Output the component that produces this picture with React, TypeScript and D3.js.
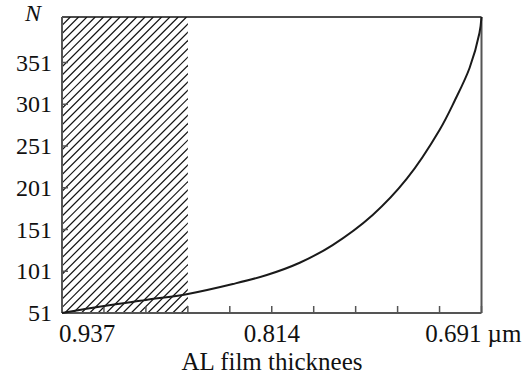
import React from "react";
import * as d3 from "d3";

const thickness = [0.937, 0.9124, 0.8878, 0.8632, 0.8368, 0.8169, 0.7976, 0.7783, 0.7548, 0.7349, 0.7156, 0.7068, 0.698, 0.6922, 0.691];
const countN = [51, 59.4, 66.6, 73.8, 85.7, 96.5, 111.2, 132.4, 168.4, 211.5, 270.2, 304.9, 344.4, 386.3, 405.5];
const yTickValues = [51, 101, 151, 201, 251, 301, 351];
const xTickCount = 10;
const xDomain = [0.937, 0.691];
const yDomain = [51, 405.5];
const hatchRange = [0.937, 0.8632];

const W = 531;
const H = 379;
const L = 62, R = 481.5, T = 17, B = 313;

export default function App() {
  const x = d3.scaleLinear().domain(xDomain).range([L, R]);
  const y = d3.scaleLinear().domain(yDomain).range([B, T]);
  const line = d3
    .line<number>()
    .x((_, i) => x(thickness[i]))
    .y((d) => y(d))
    .curve(d3.curveCatmullRom.alpha(0.5));
  const path = line(countN) || "";

  const xTicks = d3.range(xTickCount + 1).map(
    (i) => xDomain[0] + ((xDomain[1] - xDomain[0]) * i) / xTickCount
  );

  const hx0 = x(hatchRange[0]);
  const hx1 = x(hatchRange[1]);
  const hh = B - T;
  const step = 8.3;
  const hatchLines: number[] = [];
  for (let s = hx0 - hh; s < hx1 + step; s += step) hatchLines.push(s);

  const font = "'Liberation Serif', 'Times New Roman', serif";

  return (
    <svg
      width={W}
      height={H}
      style={{ position: "absolute", left: 0, top: 0, background: "#fff" }}
      fontFamily={font}
    >
      <defs>
        <clipPath id="hatchClip">
          <rect x={hx0} y={T} width={hx1 - hx0} height={hh} />
        </clipPath>
      </defs>
      <g clipPath="url(#hatchClip)">
        {hatchLines.map((s, i) => (
          <line key={i} x1={s} y1={B} x2={s + hh} y2={T} stroke="#111" strokeWidth={1.2} />
        ))}
      </g>

      {/* frame */}
      <line x1={L} y1={T} x2={R} y2={T} stroke="#111" strokeWidth={1.4} />
      <line x1={R} y1={T} x2={R} y2={B} stroke="#555" strokeWidth={2} />
      <line x1={L} y1={T} x2={L} y2={B} stroke="#555" strokeWidth={2} />
      <line x1={L} y1={B} x2={R} y2={B} stroke="#555" strokeWidth={2} />

      {/* y ticks */}
      {yTickValues.map((v) => (
        <g key={v}>
          <line x1={L} x2={L + 6} y1={y(v)} y2={y(v)} stroke="#555" strokeWidth={1.5} />
          <text x={52} y={y(v)} dy="0.34em" textAnchor="end" fontSize={24} fill="#111">
            {v}
          </text>
        </g>
      ))}
      <text x={25} y={21} fontSize={24} fontStyle="italic" fill="#111">
        N
      </text>

      {/* x ticks */}
      {xTicks.map((v, i) => (
        <line key={i} x1={x(v)} x2={x(v)} y1={B} y2={B - 7} stroke="#555" strokeWidth={1.5} />
      ))}
      <text x={x(xDomain[0]) - 3} y={342} fontSize={25} textAnchor="start" fill="#111">
        0.937
      </text>
      <text x={x(xTicks[5])} y={342} fontSize={25} textAnchor="middle" fill="#111">
        0.814
      </text>
      <text x={x(xDomain[1])} y={342} fontSize={25} textAnchor="end" fill="#111">
        0.691
      </text>
      <text x={x(xDomain[1]) + 6} y={342} fontSize={25} textAnchor="start" fill="#111">
        µm
      </text>
      <text x={272} y={370} fontSize={25} textAnchor="middle" fill="#111">
        AL film thicknees
      </text>

      <path d={path} fill="none" stroke="#1a1a1a" strokeWidth={2} />
    </svg>
  );
}
